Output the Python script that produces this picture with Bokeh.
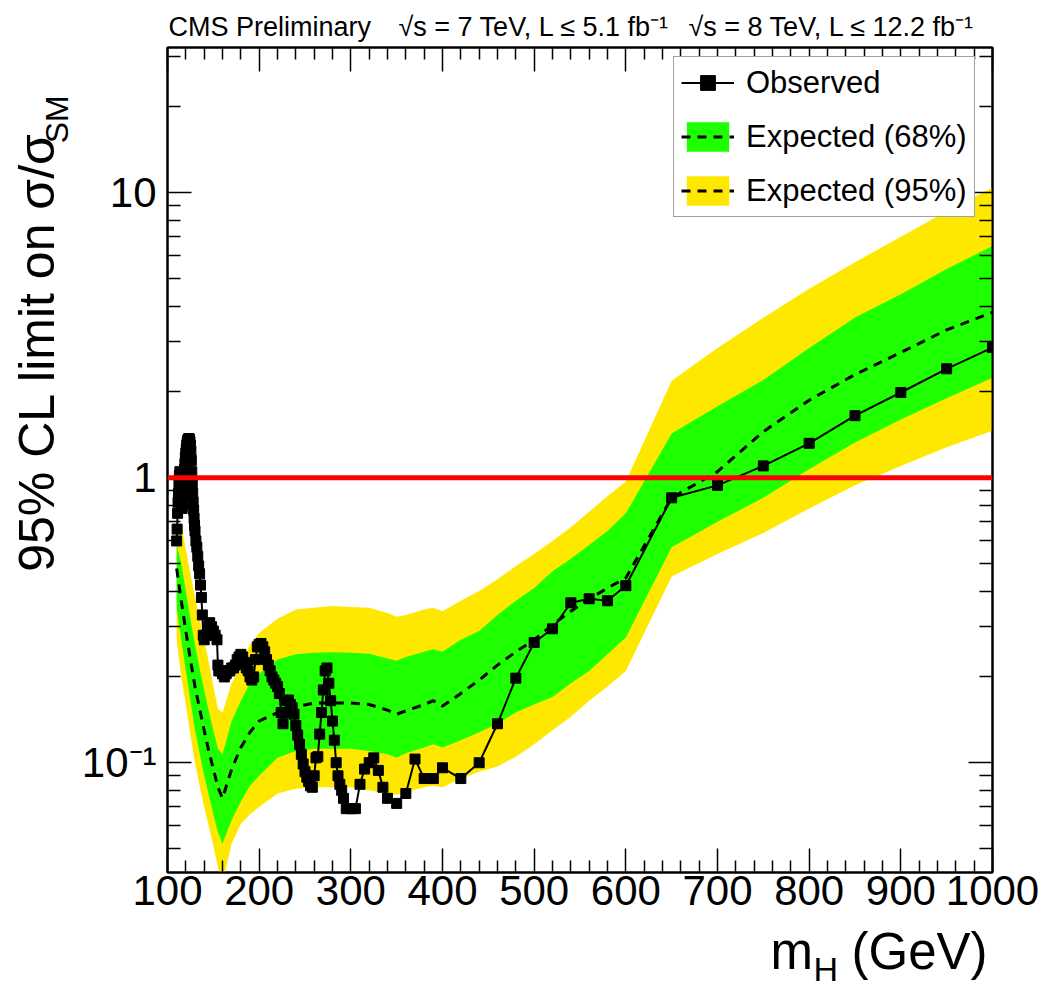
import math
from bokeh.plotting import figure
from bokeh.layouts import column, row
from bokeh.models import Range1d, FixedTicker, LinearAxis, LogAxis, Span, Label, Legend, LegendItem
from bokeh.embed import file_html
from bokeh.resources import INLINE

# ---------------- data ----------------
obs_mass = [110, 110.5, 111, 111.5, 112, 112.5, 113, 113.5, 114, 114.5, 115, 115.5, 116, 116.5, 117,
            117.5, 118, 118.5, 119, 119.5, 120, 120.5, 121, 121.5, 122, 122.5, 123, 123.5, 124, 124.5,
            125, 125.5, 126, 126.5, 127, 127.5, 128, 128.5, 129, 129.5, 130, 131, 132, 133, 134, 135,
            136, 137, 138, 139, 140, 142, 144, 146, 148, 150, 152, 154, 155, 156, 158, 160, 162, 164,
            166, 168, 170, 172, 174, 176, 178, 180, 182, 184, 186, 188, 190, 192, 194, 196, 198, 200,
            202, 204, 206, 208, 210, 212, 214, 216, 218, 220, 222, 224, 226, 228, 230, 232, 234, 236,
            238, 240, 242, 244, 246, 248, 250, 252, 254, 256, 258, 260, 262, 264, 266, 268, 270, 272,
            274, 276, 278, 280, 282, 284, 286, 288, 290, 292, 295, 300, 305, 310, 315, 320, 325, 330,
            335, 340, 350, 360, 370, 380, 390, 400, 420, 440, 460, 480, 500, 520, 540, 560, 580, 600,
            650, 700, 750, 800, 850, 900, 950, 1000]
obs_limit = [0.60, 0.66, 0.75, 0.82, 0.88, 0.95, 1.02, 1.05, 1.00, 0.93, 0.86, 0.82, 0.78, 0.80, 0.86,
             0.93, 1.00, 1.07, 1.12, 1.18, 1.22, 1.26, 1.30, 1.33, 1.35, 1.36, 1.37, 1.37, 1.36, 1.34,
             1.30, 1.24, 1.15, 1.05, 0.95, 0.88, 0.82, 0.77, 0.72, 0.68, 0.65, 0.60, 0.57, 0.53, 0.49, 0.46,
             0.42, 0.38, 0.33, 0.28, 0.27, 0.28, 0.30, 0.31, 0.30, 0.29, 0.28, 0.27, 0.22, 0.21, 0.21, 0.205,
             0.20, 0.205, 0.21, 0.21, 0.215, 0.215, 0.22, 0.23, 0.235, 0.24, 0.235, 0.225, 0.215, 0.21,
             0.20, 0.195, 0.20, 0.23, 0.255, 0.26, 0.262, 0.255, 0.245, 0.23, 0.22, 0.21, 0.20, 0.195,
             0.19, 0.185, 0.175, 0.15, 0.137, 0.15, 0.165, 0.166, 0.16, 0.156, 0.148, 0.135, 0.125, 0.116,
             0.107, 0.099, 0.093, 0.089, 0.086, 0.083, 0.082, 0.09, 0.104, 0.105, 0.126, 0.15, 0.18, 0.21,
             0.215, 0.19, 0.165, 0.14, 0.12, 0.10, 0.09, 0.084, 0.08, 0.075, 0.069, 0.069, 0.069, 0.084,
             0.095, 0.10, 0.104, 0.094, 0.082, 0.075, 0.072, 0.078, 0.103, 0.088, 0.088, 0.096, 0.088,
             0.10, 0.137, 0.198, 0.264, 0.295, 0.364, 0.376, 0.37, 0.418, 0.85, 0.94, 1.10, 1.32, 1.65,
             1.99, 2.41, 2.86]

exp_mass = [110, 115, 120, 125, 130, 135, 140, 145, 150, 155, 160, 170, 180, 190, 200, 220, 240, 260,
            280, 300, 320, 340, 350, 360, 380, 390, 400, 420, 440, 460, 480, 500, 520, 540, 560, 580,
            600, 650, 700, 750, 800, 850, 900, 950, 1000]
exp_median = [0.48, 0.37, 0.29, 0.23, 0.185, 0.155, 0.13, 0.11, 0.095, 0.082, 0.075, 0.095, 0.113, 0.128,
              0.14, 0.15, 0.157, 0.162, 0.162, 0.162, 0.16, 0.153, 0.148, 0.152, 0.16, 0.165, 0.158,
              0.175, 0.195, 0.22, 0.245, 0.27, 0.305, 0.34, 0.375, 0.41, 0.445, 0.85, 1.05, 1.45, 1.87,
              2.3, 2.75, 3.3, 3.8]
exp_68_hi = [0.58, 0.50, 0.40, 0.32, 0.26, 0.215, 0.18, 0.152, 0.13, 0.112, 0.107, 0.14, 0.165, 0.19,
             0.205, 0.23, 0.24, 0.243, 0.244, 0.243, 0.241, 0.232, 0.228, 0.235, 0.245, 0.25, 0.245,
             0.27, 0.29, 0.33, 0.37, 0.41, 0.47, 0.52, 0.58, 0.65, 0.75, 1.43, 1.78, 2.2, 2.85, 3.65,
             4.4, 5.4, 6.5]
exp_68_lo = [0.35, 0.27, 0.21, 0.165, 0.13, 0.108, 0.09, 0.077, 0.066, 0.057, 0.052, 0.063, 0.073, 0.083,
             0.09, 0.104, 0.11, 0.112, 0.112, 0.112, 0.11, 0.107, 0.104, 0.108, 0.113, 0.116, 0.113,
             0.12, 0.128, 0.137, 0.15, 0.16, 0.17, 0.19, 0.21, 0.24, 0.275, 0.57, 0.70, 0.85, 1.07,
             1.33, 1.6, 1.9, 2.24]
exp_95_hi = [0.70, 0.68, 0.56, 0.46, 0.38, 0.32, 0.27, 0.225, 0.185, 0.155, 0.15, 0.19, 0.22, 0.26,
             0.285, 0.32, 0.345, 0.35, 0.355, 0.352, 0.35, 0.335, 0.325, 0.33, 0.345, 0.35, 0.34,
             0.37, 0.40, 0.44, 0.49, 0.54, 0.60, 0.67, 0.76, 0.86, 0.97, 2.19, 2.85, 3.64, 4.6, 5.7,
             7.0, 8.6, 10.4]
exp_95_lo = [0.27, 0.20, 0.16, 0.125, 0.10, 0.083, 0.07, 0.06, 0.051, 0.043, 0.038, 0.052, 0.061, 0.066,
             0.07, 0.078, 0.081, 0.082, 0.082, 0.082, 0.08, 0.078, 0.077, 0.079, 0.082, 0.083, 0.082,
             0.088, 0.093, 0.097, 0.105, 0.116, 0.13, 0.145, 0.165, 0.185, 0.21, 0.45, 0.54, 0.64, 0.78,
             0.94, 1.1, 1.28, 1.46]

x_ticks = [100, 200, 300, 400, 500, 600, 700, 800, 900, 1000]
x_tick_labels = ["100", "200", "300", "400", "500", "600", "700", "800", "900", "1000"]
y_ticks = [0.1, 1, 10]
y_tick_labels = ["10\u207b\u00b9", "1", "10"]
sm_ratio = 1

legend_labels = ["Observed", "Expected (68%)", "Expected (95%)"]
header_texts = ["CMS Preliminary", "\u221as = 7 TeV, L \u2264 5.1 fb\u207b\u00b9",
                "\u221as = 8 TeV, L \u2264 12.2 fb\u207b\u00b9"]
x_title = ["m", "H", "(GeV)"]
y_title = ["95% CL limit on \u03c3/\u03c3", "SM"]

# ---------------- style / geometry ----------------
FONT = "Liberation Sans"
GREEN = "#1eff00"
YELLOW = "#ffe800"
XMIN, XMAX = 100, 1000
YMIN, YMAX = 0.0412, 32.3
W, H = 1046, 988
HEAD_H = 45
LEFT_W = 75
MAIN_H = 878
FOOT_H = H - HEAD_H - MAIN_H


def blank(width, height):
    f = figure(width=width, height=height, x_range=Range1d(0, width), y_range=Range1d(0, height),
               output_backend="svg", toolbar_location=None, x_axis_location=None, y_axis_location=None,
               min_border=0, outline_line_color=None, background_fill_color="white",
               border_fill_color="white")
    f.grid.visible = False
    return f


def put(f, text, x, y, size, angle=0.0):
    f.add_layout(Label(x=x, y=y, text=text, angle=angle, text_font=FONT, text_font_size=size,
                       text_color="black", text_align="left", text_baseline="alphabetic"))


# header strip (canvas y 0..45); y values are measured up from the strip bottom
head = blank(W, HEAD_H)
put(head, header_texts[0], 168, HEAD_H - 26, "27px")
put(head, header_texts[1], 398, HEAD_H - 26, "27px")
put(head, header_texts[2], 688, HEAD_H - 26, "27px")

# y title strip (canvas x 0..75, canvas y 45..923)
ylab = blank(LEFT_W, MAIN_H)
put(ylab, y_title[0], 36, HEAD_H + MAIN_H - 603, "50px", angle=math.pi / 2)
put(ylab, y_title[1], 56, HEAD_H + MAIN_H - 147, "32px", angle=math.pi / 2)

# x title strip (canvas y 923..988)
foot = blank(W, FOOT_H)
put(foot, x_title[0], 770, H - 951, "51px")
put(foot, x_title[1], 813, H - 968, "34px")
put(foot, x_title[2], 851, H - 951, "51px")

# ---------------- main plot ----------------
p = figure(width=W - LEFT_W, height=MAIN_H, x_range=Range1d(XMIN, XMAX), y_range=Range1d(YMIN, YMAX),
           y_axis_type="log", output_backend="svg", toolbar_location=None,
           min_border_left=167 - LEFT_W, min_border_right=W - 992, min_border_top=47 - HEAD_H,
           min_border_bottom=MAIN_H - (47 - HEAD_H) - 825,
           background_fill_color="white", border_fill_color="white")
p.grid.visible = False
p.outline_line_color = "black"
p.outline_line_width = 2

x_minor = [m for m in range(XMIN, XMAX + 1, 20) if m % 100 != 0]
y_minor = []
for e in (-2, -1, 0, 1):
    for k in range(2, 10):
        v = k * 10 ** e
        if YMIN <= v <= YMAX:
            y_minor.append(v)


def style_axis(ax, major_len, minor_len):
    ax.axis_line_width = 2
    ax.axis_line_color = "black"
    ax.major_tick_in = major_len
    ax.major_tick_out = 0
    ax.minor_tick_in = minor_len
    ax.minor_tick_out = 0
    ax.major_tick_line_width = 1.5
    ax.minor_tick_line_width = 1.5
    ax.major_tick_line_color = "black"
    ax.minor_tick_line_color = "black"


xax = p.xaxis[0]
xax.ticker = FixedTicker(ticks=x_ticks, minor_ticks=x_minor)
xax.major_label_overrides = {t: l for t, l in zip(x_ticks, x_tick_labels)}
xax.major_label_text_font = FONT
xax.major_label_text_font_size = "42px"
xax.major_label_text_color = "black"
xax.major_label_standoff = 3
style_axis(xax, 24, 12)

yax = p.yaxis[0]
yax.ticker = FixedTicker(ticks=y_ticks, minor_ticks=y_minor)
yax.major_label_overrides = {t: l for t, l in zip(y_ticks, y_tick_labels)}
yax.major_label_text_font = FONT
yax.major_label_text_font_size = "42px"
yax.major_label_text_color = "black"
yax.major_label_standoff = 11
style_axis(yax, 24, 13)

top = LinearAxis(ticker=FixedTicker(ticks=x_ticks, minor_ticks=x_minor),
                 major_label_overrides={t: "" for t in x_ticks}, major_label_text_font_size="1px",
                 major_label_standoff=0)
style_axis(top, 24, 12)
p.add_layout(top, "above")
right = LogAxis(ticker=FixedTicker(ticks=y_ticks, minor_ticks=y_minor),
                major_label_overrides={t: "" for t in y_ticks}, major_label_text_font_size="1px",
                major_label_standoff=0)
style_axis(right, 24, 13)
p.add_layout(right, "right")

band95 = p.varea(x=exp_mass, y1=exp_95_lo, y2=exp_95_hi, fill_color=YELLOW, fill_alpha=1)
band68 = p.varea(x=exp_mass, y1=exp_68_lo, y2=exp_68_hi, fill_color=GREEN, fill_alpha=1)
med = p.line(exp_mass, exp_median, line_color="black", line_width=3, line_dash="9 7")
obs_line = p.line(obs_mass, obs_limit, line_color="black", line_width=2)
obs_pts = p.scatter(obs_mass, obs_limit, marker="square", size=10, fill_color="black", line_color="black")

p.add_layout(Span(location=sm_ratio, dimension="width", line_color="#ff0000", line_width=5))

legend = Legend(items=[LegendItem(label=legend_labels[0], renderers=[obs_line, obs_pts]),
                       LegendItem(label=legend_labels[1], renderers=[band68, med]),
                       LegendItem(label=legend_labels[2], renderers=[band95, med])],
                location=(506, 655), orientation="vertical",
                label_text_font=FONT, label_text_font_size="31px", label_text_color="black",
                label_standoff=12, glyph_width=53, glyph_height=37, label_height=37,
                spacing=17, padding=7, margin=0,
                border_line_color="#444444", border_line_width=1.5,
                background_fill_color="white", background_fill_alpha=1)
p.add_layout(legend)

layout = column(head, row(ylab, p), foot)
open("out.html", "w").write(file_html(layout, INLINE))
